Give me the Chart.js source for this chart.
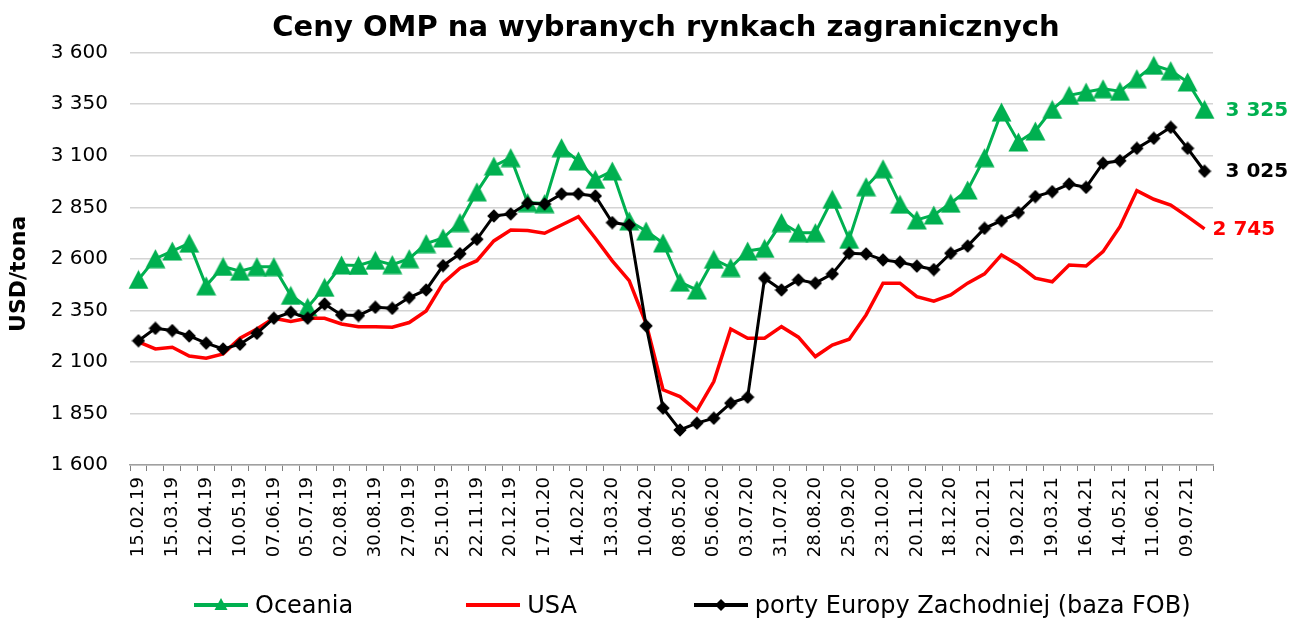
<!DOCTYPE html>
<html><head><meta charset="utf-8">
<script src="https://cdn.jsdelivr.net/npm/chart.js@4.4.1/dist/chart.umd.min.js"></script>
<style>
html,body{margin:0;padding:0;background:#fff;}
#wrap{position:relative;width:1295px;height:619px;overflow:hidden;}
#title{position:absolute;top:12px;left:666px;transform:translateX(-50%);white-space:nowrap;font-family:"DejaVu Sans";font-weight:bold;font-size:29px;line-height:29px;color:#000;}
#legend{position:absolute;left:194px;top:593px;display:flex;align-items:center;font-family:"DejaVu Sans";font-size:24px;line-height:24px;color:#000;}
#legend .item{display:flex;align-items:center;}
#legend .txt{margin-left:7px;white-space:nowrap;}
#legend .gap1{width:113px;}
#legend .gap2{width:117px;}
</style></head>
<body>
<div id="wrap">
<canvas id="c" width="1295" height="619"></canvas>
<div id="title">Ceny OMP na wybranych rynkach zagranicznych</div>
<div id="legend">
 <div class="item"><svg width="54" height="20"><line x1="0" y1="10" x2="54" y2="10" stroke="#00b050" stroke-width="4"/><polygon points="27,3 33.5,15 20.5,15" fill="#00b050"/></svg><span class="txt">Oceania</span></div>
 <div class="gap1"></div>
 <div class="item"><svg width="54" height="20"><line x1="0" y1="10" x2="54" y2="10" stroke="#ff0000" stroke-width="4"/></svg><span class="txt">USA</span></div>
 <div class="gap2"></div>
 <div class="item"><svg width="54" height="20"><line x1="0" y1="10" x2="54" y2="10" stroke="#000" stroke-width="4"/><polygon points="27,4 33,10 27,16 21,10" fill="#000"/></svg><span class="txt">porty Europy Zachodniej (baza FOB)</span></div>
</div>
</div>
<script>
const dates = ["15.02.19","01.03.19","15.03.19","29.03.19","12.04.19","26.04.19","10.05.19","24.05.19","07.06.19","21.06.19","05.07.19","19.07.19","02.08.19","16.08.19","30.08.19","13.09.19","27.09.19","11.10.19","25.10.19","08.11.19","22.11.19","06.12.19","20.12.19","03.01.20","17.01.20","31.01.20","14.02.20","28.02.20","13.03.20","27.03.20","10.04.20","24.04.20","08.05.20","22.05.20","05.06.20","19.06.20","03.07.20","17.07.20","31.07.20","14.08.20","28.08.20","11.09.20","25.09.20","09.10.20","23.10.20","06.11.20","20.11.20","04.12.20","18.12.20","08.01.21","22.01.21","05.02.21","19.02.21","05.03.21","19.03.21","02.04.21","16.04.21","30.04.21","14.05.21","28.05.21","11.06.21","25.06.21","09.07.21","23.07.21"];
const oceania = [2500,2601,2638,2676,2469,2563,2540,2562,2562,2423,2365,2462,2570,2568,2593,2572,2601,2674,2701,2776,2925,3050,3091,2873,2868,3139,3075,2986,3026,2784,2735,2677,2487,2449,2598,2558,2638,2651,2776,2727,2727,2889,2695,2950,3037,2865,2789,2813,2870,2934,3091,3312,3167,3220,3325,3393,3409,3425,3413,3474,3539,3513,3458,3325];
const usa = [2197,2163,2171,2129,2118,2139,2215,2260,2312,2296,2312,2312,2284,2271,2271,2268,2291,2347,2482,2555,2591,2687,2740,2737,2724,2764,2805,2700,2590,2494,2286,1965,1932,1864,2005,2260,2215,2215,2271,2220,2126,2182,2210,2328,2482,2482,2417,2395,2425,2482,2527,2619,2570,2506,2489,2570,2565,2635,2756,2931,2889,2861,2805,2745];
const porty = [2203,2263,2252,2226,2191,2163,2186,2239,2312,2341,2312,2381,2328,2325,2365,2360,2412,2449,2567,2625,2695,2808,2818,2870,2866,2915,2915,2905,2776,2764,2275,1876,1770,1803,1827,1900,1929,2506,2449,2498,2482,2527,2627,2624,2595,2584,2565,2548,2627,2662,2748,2785,2824,2902,2926,2963,2947,3064,3076,3136,3185,3238,3136,3025];
const yMin = 1600, yMax = 3600, yStep = 250;

const fmt = v => String(Math.round(v)).replace(/\B(?=(\d{3})+(?!\d))/g, ' ');

function triImg(color){
  const c = document.createElement('canvas'); c.width = 21; c.height = 20;
  const g = c.getContext('2d'); g.fillStyle = color;
  g.beginPath(); g.moveTo(10.5,0.5); g.lineTo(20.5,19.5); g.lineTo(0.5,19.5); g.closePath(); g.fill();
  return c;
}
function diaImg(color){
  const c = document.createElement('canvas'); c.width = 14; c.height = 14;
  const g = c.getContext('2d'); g.fillStyle = color;
  g.beginPath(); g.moveTo(7,0.3); g.lineTo(13.7,7); g.lineTo(7,13.7); g.lineTo(0.3,7); g.closePath(); g.fill();
  return c;
}

const endLabels = {
  id: 'endLabels',
  afterDatasetsDraw(chart){
    const ctx = chart.ctx;
    chart.data.datasets.forEach((ds, i) => {
      const meta = chart.getDatasetMeta(i);
      const pt = meta.data[meta.data.length - 1];
      ctx.save();
      ctx.font = 'bold 20px "DejaVu Sans"';
      ctx.fillStyle = ds.borderColor;
      ctx.textAlign = 'left';
      ctx.textBaseline = 'middle';
      ctx.fillText(fmt(ds.data[ds.data.length - 1]), pt.x + ds.endOffset, pt.y + 1);
      ctx.restore();
    });
  }
};
const yTitle = {
  id: 'yTitle',
  afterDraw(chart){
    const {ctx, chartArea} = chart;
    ctx.save();
    ctx.translate(19, (chartArea.top + chartArea.bottom) / 2 + 15);
    ctx.rotate(-Math.PI / 2);
    ctx.font = 'bold 22px "DejaVu Sans"';
    ctx.fillStyle = '#000';
    ctx.textAlign = 'center';
    ctx.textBaseline = 'middle';
    ctx.fillText('USD/tona', 0, 0);
    ctx.restore();
  }
};

new Chart(document.getElementById('c'), {
  type: 'line',
  data: {
    labels: dates,
    datasets: [
      {label:'Oceania', data: oceania, borderColor:'#00b050', backgroundColor:'#00b050', borderWidth:3, pointStyle: triImg('#00b050'), pointRadius:10, order:2, endOffset:21, tension:0},
      {label:'USA', data: usa, borderColor:'#ff0000', backgroundColor:'#ff0000', borderWidth:3.5, pointRadius:0, order:1, endOffset:8, tension:0},
      {label:'porty Europy Zachodniej (baza FOB)', data: porty, borderColor:'#000000', backgroundColor:'#000000', borderWidth:3, pointStyle: diaImg('#000'), pointRadius:7, order:0, endOffset:21, tension:0}
    ]
  },
  options: {
    responsive:false, animation:false, devicePixelRatio:1,
    layout:{padding:{left:0, right:82, top:52.7, bottom:0}},
    plugins:{legend:{display:false}, title:{display:false}, tooltip:{enabled:false}},
    scales:{
      x:{
        offset:true,
        grid:{display:true, drawOnChartArea:false, drawTicks:true, tickLength:6, offset:true, color:'#7f7f7f', lineWidth:1},
        border:{display:true, color:'#a0a0a0', width:1.5},
        ticks:{autoSkip:false, maxRotation:90, minRotation:90, padding:6, color:'#000',
          font:{family:'"DejaVu Sans"', size:18},
          callback:(v, i) => i % 2 === 0 ? dates[i] : ''},
        afterFit(s){ s.height = 154; }
      },
      y:{
        min:yMin, max:yMax,
        grid:{color:'#d4d4d4', lineWidth:1.5, drawTicks:false},
        border:{display:false},
        ticks:{stepSize:yStep, padding:22, color:'#000', font:{family:'"DejaVu Sans"', size:20}, callback:v => fmt(v)},
        afterFit(s){ s.width = 130; }
      }
    }
  },
  plugins:[endLabels, yTitle]
});
</script>
</body></html>
